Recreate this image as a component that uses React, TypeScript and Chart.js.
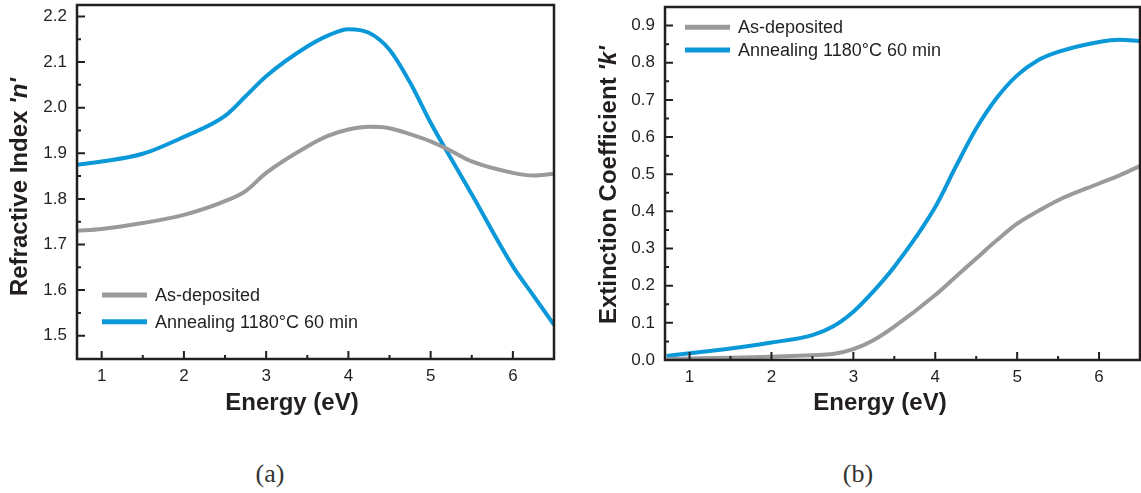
import React, { useEffect, useRef } from "react";
import { Chart, registerables } from "chart.js";

Chart.register(...registerables);

// ---------- data ----------
const nEnergy = [0.7, 1.0, 1.5, 2.0, 2.5, 2.75, 3.0, 3.5, 3.75, 4.0, 4.25, 4.5, 4.75, 5.0, 5.25, 5.5, 6.0, 6.25, 6.5];
const nAsDeposited = [1.730, 1.734, 1.747, 1.765, 1.795, 1.817, 1.857, 1.915, 1.938, 1.952, 1.958, 1.955, 1.942, 1.926, 1.905, 1.882, 1.857, 1.851, 1.855];
const nAnnealed = [1.875, 1.882, 1.899, 1.936, 1.982, 2.025, 2.069, 2.134, 2.158, 2.172, 2.164, 2.127, 2.055, 1.967, 1.888, 1.810, 1.652, 1.588, 1.524];

const kEnergy = [0.72, 1.0, 1.5, 2.0, 2.5, 2.75, 3.0, 3.25, 3.5, 4.0, 4.25, 4.5, 4.75, 5.0, 5.25, 5.5, 6.0, 6.25, 6.5];
const kAsDeposited = [0.002, 0.004, 0.006, 0.009, 0.013, 0.016, 0.029, 0.054, 0.090, 0.175, 0.224, 0.273, 0.322, 0.367, 0.400, 0.430, 0.475, 0.497, 0.522];
const kAnnealed = [0.011, 0.018, 0.031, 0.047, 0.067, 0.090, 0.130, 0.186, 0.251, 0.412, 0.520, 0.623, 0.705, 0.766, 0.806, 0.829, 0.856, 0.862, 0.858];

const xTickValues = [1, 2, 3, 4, 5, 6];
const xMinorValues = [1.5, 2.5, 3.5, 4.5, 5.5];
const nTickValues = [1.5, 1.6, 1.7, 1.8, 1.9, 2.0, 2.1, 2.2];
const nMinorValues = [1.55, 1.65, 1.75, 1.85, 1.95, 2.05, 2.15];
const kTickValues = [0.0, 0.1, 0.2, 0.3, 0.4, 0.5, 0.6, 0.7, 0.8, 0.9];
const kMinorValues = [0.05, 0.15, 0.25, 0.35, 0.45, 0.55, 0.65, 0.75, 0.85];

const seriesLabels = ["As-deposited", "Annealing 1180°C 60 min"];
const xTitle = "Energy (eV)";

const GRAY = "#9a9a9c";
const BLUE = "#0a98d8";
const INK = "#231f20";
const SANS = "'Liberation Sans', Arial, sans-serif";

type PanelCfg = {
  energy: number[];
  asDep: number[];
  anneal: number[];
  yMin: number;
  yMax: number;
  yTicks: number[];
  yMinor: number[];
  yTitleMain: string;
  yTitleItalic: string;
  yTitleX: number;
  yTitleY: number;
  xTitleX: number;
  legendX: number;
  legendY: number;
  legendGap: number;
  yAxisWidth: number;
  padTop: number;
  padRight: number;
  xAxisHeight: number;
  width: number;
  height: number;
};

function makePlugin(cfg: PanelCfg) {
  return {
    id: "panelDecor",
    afterDatasetsDraw(chart: any) {
      const ctx = chart.ctx as CanvasRenderingContext2D;
      const a = chart.chartArea;
      const xs = chart.scales.x;
      const ys = chart.scales.y;
      ctx.save();
      // frame
      ctx.strokeStyle = INK;
      ctx.lineWidth = 2.5;
      ctx.strokeRect(a.left, a.top, a.right - a.left, a.bottom - a.top);
      // ticks (inward)
      ctx.lineWidth = 2;
      ctx.beginPath();
      xTickValues.forEach((v) => {
        const p = xs.getPixelForValue(v);
        ctx.moveTo(p, a.bottom);
        ctx.lineTo(p, a.bottom - 8);
      });
      xMinorValues.forEach((v) => {
        const p = xs.getPixelForValue(v);
        ctx.moveTo(p, a.bottom);
        ctx.lineTo(p, a.bottom - 4);
      });
      cfg.yTicks.forEach((v) => {
        const p = ys.getPixelForValue(v);
        ctx.moveTo(a.left, p);
        ctx.lineTo(a.left + 8, p);
      });
      cfg.yMinor.forEach((v) => {
        const p = ys.getPixelForValue(v);
        ctx.moveTo(a.left, p);
        ctx.lineTo(a.left + 4, p);
      });
      ctx.stroke();

      // legend
      const colors = [GRAY, BLUE];
      seriesLabels.forEach((lab, i) => {
        const y = cfg.legendY + i * cfg.legendGap;
        ctx.strokeStyle = colors[i];
        ctx.lineWidth = 5;
        ctx.beginPath();
        ctx.moveTo(cfg.legendX, y);
        ctx.lineTo(cfg.legendX + 45, y);
        ctx.stroke();
        ctx.fillStyle = INK;
        ctx.font = `18px ${SANS}`;
        ctx.textAlign = "left";
        ctx.textBaseline = "middle";
        ctx.fillText(lab, cfg.legendX + 53, y + 1);
      });

      // x title
      ctx.fillStyle = INK;
      ctx.font = `bold 24px ${SANS}`;
      ctx.textAlign = "center";
      ctx.textBaseline = "alphabetic";
      ctx.fillText(xTitle, cfg.xTitleX, 409.5);

      // y title (rotated, mixed style)
      ctx.translate(cfg.yTitleX, cfg.yTitleY);
      ctx.rotate(-Math.PI / 2);
      const f1 = `bold 24px ${SANS}`;
      const f2 = `italic bold 24px ${SANS}`;
      ctx.font = f1;
      const w1 = ctx.measureText(cfg.yTitleMain).width;
      ctx.font = f2;
      const w2 = ctx.measureText(cfg.yTitleItalic).width;
      const start = -(w1 + w2) / 2;
      ctx.textAlign = "left";
      ctx.textBaseline = "middle";
      ctx.font = f1;
      ctx.fillText(cfg.yTitleMain, start, 1);
      ctx.font = f2;
      ctx.fillText(cfg.yTitleItalic, start + w1, 1);
      ctx.restore();
    },
  };
}

function Panel({ cfg, left }: { cfg: PanelCfg; left: number }) {
  const ref = useRef<HTMLCanvasElement | null>(null);
  useEffect(() => {
    if (!ref.current) return;
    const chart = new Chart(ref.current, {
      type: "line",
      data: {
        datasets: [
          {
            label: seriesLabels[0],
            data: cfg.energy.map((x, i) => ({ x, y: cfg.asDep[i] })),
            borderColor: GRAY,
            borderWidth: 4,
            pointRadius: 0,
            cubicInterpolationMode: "monotone",
          },
          {
            label: seriesLabels[1],
            data: cfg.energy.map((x, i) => ({ x, y: cfg.anneal[i] })),
            borderColor: BLUE,
            borderWidth: 4,
            pointRadius: 0,
            cubicInterpolationMode: "monotone",
          },
        ],
      },
      options: {
        animation: false,
        responsive: false,
        maintainAspectRatio: false,
        layout: { padding: { left: 0, right: cfg.padRight, top: cfg.padTop, bottom: 0 } },
        plugins: { legend: { display: false }, tooltip: { enabled: false } },
        scales: {
          x: {
            type: "linear",
            min: 0.7,
            max: 6.5,
            grid: { display: false, drawTicks: false },
            border: { display: false },
            afterBuildTicks: (s: any) => {
              s.ticks = xTickValues.map((v) => ({ value: v }));
            },
            afterFit: (s: any) => {
              s.height = cfg.xAxisHeight;
              s.paddingLeft = 0;
              s.paddingRight = 0;
              s.paddingTop = 0;
              s.paddingBottom = 0;
            },
            ticks: {
              padding: 7,
              color: INK,
              font: { family: SANS, size: 17 },
              maxRotation: 0,
              callback: (v: any) => String(v),
            },
          },
          y: {
            type: "linear",
            min: cfg.yMin,
            max: cfg.yMax,
            grid: { display: false, drawTicks: false },
            border: { display: false },
            afterBuildTicks: (s: any) => {
              s.ticks = cfg.yTicks.map((v) => ({ value: v }));
            },
            afterFit: (s: any) => {
              s.width = cfg.yAxisWidth;
              s.paddingLeft = 0;
              s.paddingRight = 0;
              s.paddingTop = 0;
              s.paddingBottom = 0;
            },
            ticks: {
              padding: 10,
              color: INK,
              font: { family: SANS, size: 17 },
              callback: (v: any) => Number(v).toFixed(1),
            },
          },
        },
      },
      plugins: [makePlugin(cfg)],
    } as any);
    return () => chart.destroy();
  }, []);
  return (
    <div style={{ position: "absolute", left, top: 0, width: cfg.width, height: cfg.height }}>
      <canvas ref={ref} width={cfg.width} height={cfg.height} style={{ width: cfg.width, height: cfg.height, display: "block" }} />
    </div>
  );
}

const panelN: PanelCfg = {
  energy: nEnergy,
  asDep: nAsDeposited,
  anneal: nAnnealed,
  yMin: 1.449,
  yMax: 2.225,
  yTicks: nTickValues,
  yMinor: nMinorValues,
  yTitleMain: "Refractive Index ",
  yTitleItalic: "'n'",
  yTitleX: 19,
  yTitleY: 187,
  xTitleX: 292,
  legendX: 102,
  legendY: 295,
  legendGap: 26.7,
  yAxisWidth: 77,
  padTop: 5,
  padRight: 26,
  xAxisHeight: 81,
  width: 580,
  height: 440,
};

const panelK: PanelCfg = {
  energy: kEnergy,
  asDep: kAsDeposited,
  anneal: kAnnealed,
  yMin: 0,
  yMax: 0.95,
  yTicks: kTickValues,
  yMinor: kMinorValues,
  yTitleMain: "Extinction Coefficient ",
  yTitleItalic: "'k'",
  yTitleX: 28,
  yTitleY: 185,
  xTitleX: 300,
  legendX: 105,
  legendY: 27.3,
  legendGap: 22.7,
  yAxisWidth: 85,
  padTop: 7,
  padRight: 1,
  xAxisHeight: 80,
  width: 561,
  height: 440,
};

export default function App() {
  const cap: React.CSSProperties = {
    position: "absolute",
    top: 474,
    transform: "translate(-50%, -50%)",
    fontFamily: "'Liberation Serif', 'DejaVu Serif', serif",
    fontSize: 26,
    lineHeight: 1,
    color: "#333",
    whiteSpace: "nowrap",
  };
  return (
    <div style={{ position: "absolute", left: 0, top: 0, width: 1141, height: 493, background: "#fff", overflow: "hidden" }}>
      <Panel cfg={panelN} left={0} />
      <Panel cfg={panelK} left={580} />
      <div style={{ ...cap, left: 270 }}>(a)</div>
      <div style={{ ...cap, left: 858 }}>(b)</div>
    </div>
  );
}
